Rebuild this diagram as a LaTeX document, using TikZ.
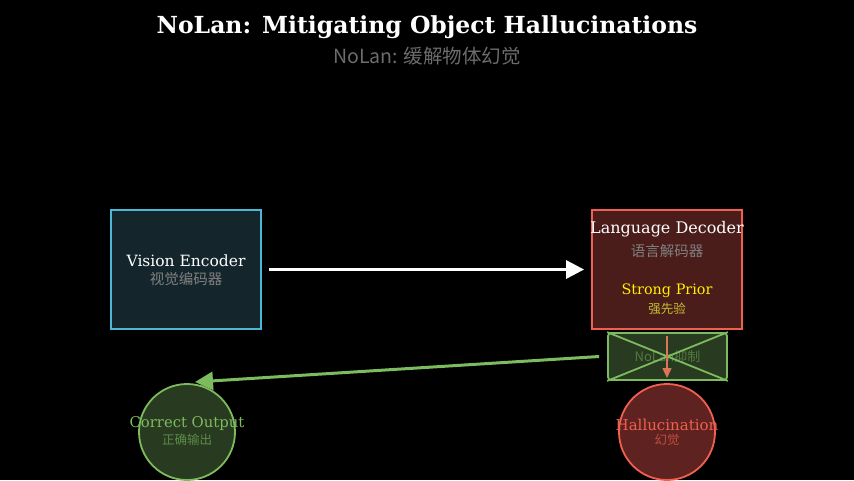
\documentclass[tikz,border=0pt]{standalone}
\usepackage{fontspec}
\setmainfont{DejaVu Serif}
\newfontfamily\cjk{Noto Sans CJK SC}
\usetikzlibrary{arrows.meta}
\definecolor{bgc}{HTML}{000000}
\definecolor{vfill}{HTML}{14262C}
\definecolor{vline}{HTML}{4AB8D6}
\definecolor{dfill}{HTML}{4A1C1A}
\definecolor{dline}{HTML}{F06050}
\definecolor{gfill}{HTML}{283A20}
\definecolor{gline}{HTML}{7DBB5F}
\definecolor{hfill}{HTML}{5E2220}
\definecolor{oarr}{HTML}{D9765A}
\begin{document}
\begin{tikzpicture}[x=1pt,y=-1pt,
  lab/.style={font=\fontsize{15.5}{17}\selectfont, text=white},
  sub/.style={font=\cjk\fontsize{14.5}{16}\selectfont, text=gray},
  box/.style={draw, line width=1.8pt, minimum width=150pt, minimum height=119pt},
  circ/.style={circle, draw, line width=1.8pt, minimum size=96pt}]
\fill[bgc] (0,0) rectangle (854,480);
\useasboundingbox (0,0) rectangle (854,480);
\node[font=\bfseries\fontsize{23.5}{26}\selectfont, text=white] (title) at (427,27) {NoLan: Mitigating Object Hallucinations};
\node[font=\cjk\fontsize{19.5}{22}\selectfont, text=gray!85!black] (subtitle) at (427,56) {NoLan: 缓解物体幻觉};
\node[box, draw=vline, fill=vfill] (ve) at (186,269.5) {};
\node[lab] (vet) at (186,261) {Vision Encoder};
\node[sub] (ves) at (186,279) {视觉编码器};
\node[box, draw=dline, fill=dfill] (ld) at (667,269.5) {};
\node[lab, font=\fontsize{16}{18}\selectfont] (ldt) at (667,229) {Language Decoder};
\node[sub] (lds) at (667,251) {语言解码器};
\node[lab, text=yellow, font=\fontsize{14.4}{16}\selectfont] (sp) at (667,291) {Strong Prior};
\node[sub, text=yellow!75!black, font=\cjk\fontsize{12.5}{14}\selectfont] (sps) at (667,309) {强先验};
\draw[white, line width=3pt, -{Triangle[length=18pt,width=18pt]}] (ve.east)++(7,0) -- ([xshift=-7pt]ld.west);
\node[draw=gline, fill=gfill, line width=1.8pt, rounded corners=3pt, minimum width=119pt, minimum height=47pt] (nl) at (667.5,356.5) {};
\node[font=\cjk\fontsize{13}{15}\selectfont, text=gline!50!gfill] (nlt) at (667.5,357) {NoLan抑制};
\draw[gline, line width=1.8pt] (nl.north west) -- (nl.south east) (nl.north east) -- (nl.south west);
\draw[oarr, line width=1.5pt, -{Triangle[length=10pt,width=9pt]}] (667,336) -- (667,378);
\node[circ, draw=dline, fill=hfill] (hal) at (667,432) {};
\node[lab, text=dline, font=\fontsize{15}{17}\selectfont] (halt) at (667,425) {Hallucination};
\node[sub, text=dline!80!black, font=\cjk\fontsize{12.5}{14}\selectfont] (hals) at (667,440) {幻觉};
\node[circ, draw=gline, fill=gfill] (co) at (187,432) {};
\node[lab, text=gline, font=\fontsize{14.8}{17}\selectfont] (cot) at (187,424) {Correct Output};
\node[sub, text=gline!75!black, font=\cjk\fontsize{12.5}{14}\selectfont] (cos) at (187,440) {正确输出};
\draw[gline, line width=3pt, -{Triangle[length=18pt,width=18pt]}] ([xshift=-8pt]nl.west) -- (195,382);
\end{tikzpicture}
\end{document}
